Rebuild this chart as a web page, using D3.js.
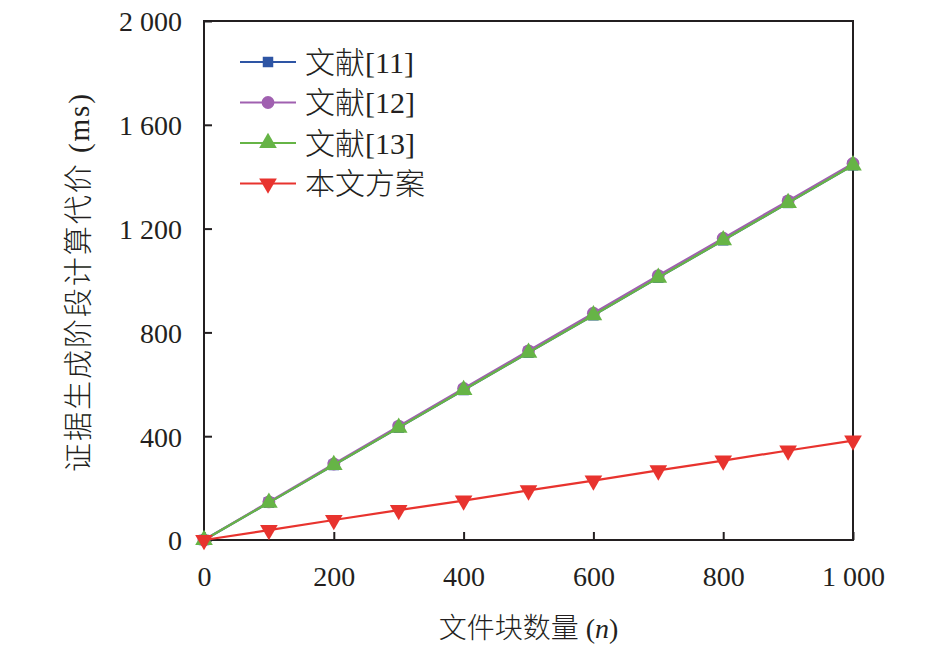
<!DOCTYPE html>
<html>
<head>
<meta charset="utf-8">
<script src="https://cdn.jsdelivr.net/npm/d3@7"></script>
</head>
<body style="margin:0; background:#fff">
<div id="chart"></div>
<script>
// data
const blocks = [0, 100, 200, 300, 400, 500, 600, 700, 800, 900, 1000];
const ref11 = [0, 144, 289, 433, 578, 722, 866, 1011, 1155, 1299, 1444];
const ref12 = [0, 147, 293, 439, 584, 729, 874, 1019, 1163, 1307, 1451];
const ref13 = [0, 144, 289, 433, 578, 722, 866, 1011, 1155, 1299, 1444];
const ours = [0, 38, 77, 115, 152, 191, 229, 268, 306, 345, 383];
const xTicks = [0, 200, 400, 600, 800, 1000];
const yTicks = [0, 400, 800, 1200, 1600, 2000];
const seriesNames = ["文献[11]", "文献[12]", "文献[13]", "本文方案"];

const LATIN = "Liberation Serif";
const CJK = "Noto Sans CJK SC";
const INK = "#231f20";
const fmt = (d) => d >= 1000 ? Math.floor(d / 1000) + " " + String(d % 1000).padStart(3, "0") : String(d);

// split a string into CJK / non-CJK runs, each with its own font
function richText(sel, str) {
  const runs = str.match(/[\u3400-\u9fff]+|[^\u3400-\u9fff]+/g) || [];
  runs.forEach((r) => {
    const cjk = /[\u3400-\u9fff]/.test(r);
    sel.append("tspan").attr("font-family", cjk ? CJK : LATIN)
      .attr("font-weight", cjk ? 300 : null)
      .text(r);
  });
  return sel;
}

const W = 945, H = 650;
const margin = { top: 21, right: 92, bottom: 110, left: 204 };
const width = W - margin.left - margin.right;
const height = H - margin.top - margin.bottom;

const svg = d3.select("#chart").append("svg")
  .attr("width", W).attr("height", H)
  .attr("font-family", LATIN);
const g = svg.append("g")
  .attr("transform", `translate(${margin.left},${margin.top})`);

const x = d3.scaleLinear().domain([0, 1000]).range([0, width]);
const y = d3.scaleLinear().domain([0, 2000]).range([height, 0]);

// frame
g.append("rect")
  .attr("width", width).attr("height", height)
  .attr("fill", "none").attr("stroke", INK).attr("stroke-width", 2);

// axes with inward ticks
const xAxis = g.append("g")
  .attr("transform", `translate(0,${height})`)
  .call(d3.axisBottom(x).tickValues(xTicks).tickSizeInner(-8).tickSizeOuter(0).tickPadding(26).tickFormat(fmt));
const yAxis = g.append("g")
  .call(d3.axisLeft(y).tickValues(yTicks).tickSizeInner(-8).tickSizeOuter(0).tickPadding(22).tickFormat(fmt));
[xAxis, yAxis].forEach((a) => {
  a.attr("font-family", LATIN).attr("font-size", 28);
  a.select(".domain").remove();
  a.selectAll(".tick line").attr("stroke", INK).attr("stroke-width", 2);
  a.selectAll(".tick text").attr("fill", INK);
});
yAxis.selectAll(".tick text").attr("dy", "0.35em");

// axis titles
const xt = svg.append("text")
  .attr("x", margin.left + width / 2).attr("y", 638)
  .attr("text-anchor", "middle").attr("font-size", 28).attr("fill", INK);
richText(xt, "文件块数量 (");
xt.append("tspan").attr("font-style", "italic").text("n");
xt.append("tspan").text(")");

const yt = svg.append("text")
  .attr("transform", `translate(89,283) rotate(-90)`)
  .attr("text-anchor", "middle").attr("font-size", 29).attr("fill", INK)
  .attr("textLength", 378).attr("lengthAdjust", "spacing");
richText(yt, "证据生成阶段计算代价 (ms)");

// series
const series = [
  { name: seriesNames[0], values: ref11, color: "#2e55a4", marker: "square" },
  { name: seriesNames[1], values: ref12, color: "#a060b0", marker: "circle" },
  { name: seriesNames[2], values: ref13, color: "#66b446", marker: "up" },
  { name: seriesNames[3], values: ours, color: "#e8332e", marker: "down" },
];

const symbolFor = (m) => {
  if (m === "square") return d3.symbol(d3.symbolSquare, 110)();
  if (m === "circle") return d3.symbol(d3.symbolCircle, 130)();
  return d3.symbol(d3.symbolTriangle, 135)();
};

const line = d3.line().x((d, i) => x(blocks[i])).y((d) => y(d));

series.forEach((s) => {
  g.append("path")
    .datum(s.values)
    .attr("fill", "none").attr("stroke", s.color).attr("stroke-width", 2.2)
    .attr("d", line);
  g.selectAll(null).data(s.values).enter().append("path")
    .attr("d", symbolFor(s.marker))
    .attr("fill", s.color)
    .attr("transform", (d, i) => `translate(${x(blocks[i])},${y(d)})${s.marker === "down" ? " rotate(180)" : ""}`);
});

// legend
const legend = svg.append("g").attr("transform", "translate(240,62)");
series.forEach((s, i) => {
  const row = legend.append("g").attr("transform", `translate(0,${i * 40.5})`);
  row.append("line").attr("x1", 0).attr("x2", 56)
    .attr("stroke", s.color).attr("stroke-width", 2.2);
  row.append("path").attr("d", symbolFor(s.marker)).attr("fill", s.color)
    .attr("transform", `translate(28,0)${s.marker === "down" ? " rotate(180)" : ""}`);
  const t = row.append("text").attr("x", 65).attr("dy", "0.35em")
    .attr("font-size", 30).attr("fill", INK);
  richText(t, s.name);
});
</script>
</body>
</html>
